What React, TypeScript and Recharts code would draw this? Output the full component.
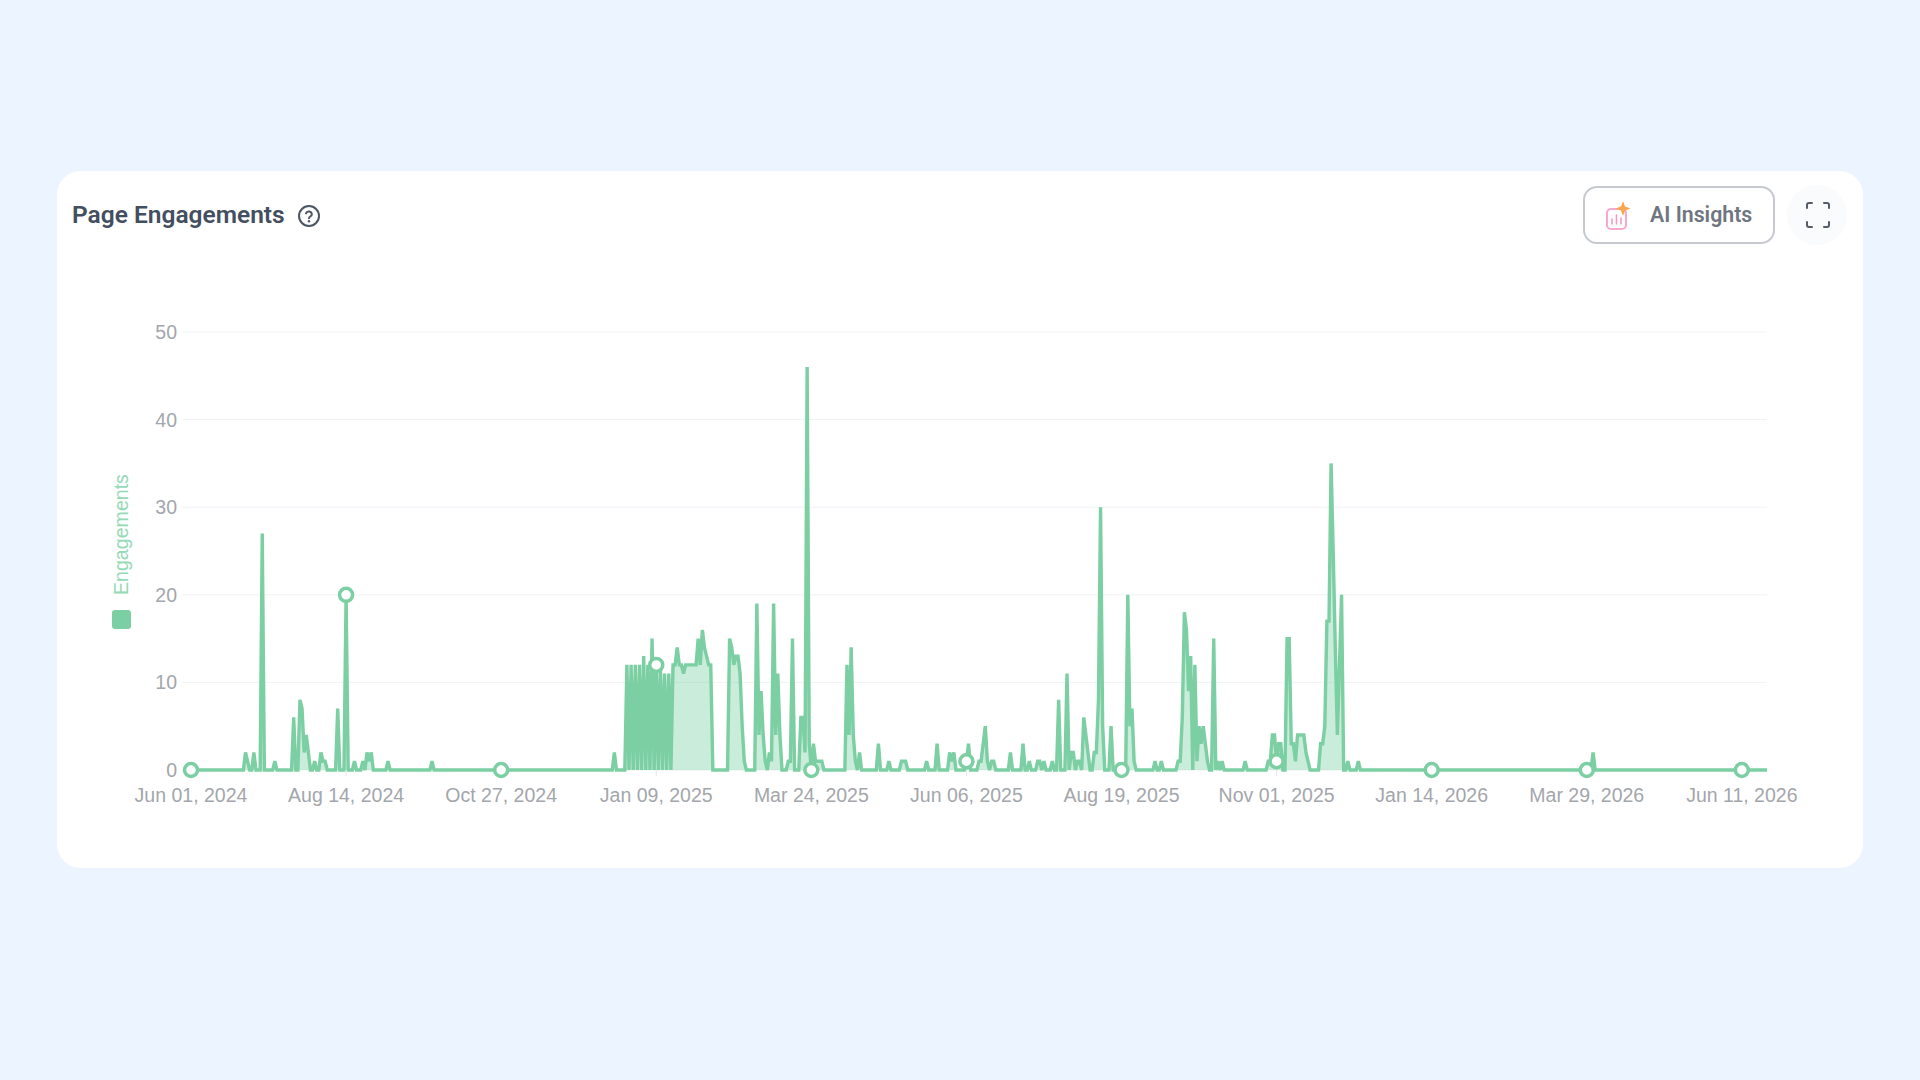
import { AreaChart, Area, XAxis, YAxis, CartesianGrid } from "recharts";

// days counted from Jun 01, 2024; every day not listed has no engagements
const lastDay = 752;

const activeDays = [
  26, 27, 30, 34, 40, 49, 52, 53, 54, 55, 56, 59, 62, 63, 64, 70, 74, 78, 82, 84, 85, 86, 94, 115, 202,
  208, 210, 212, 214, 216, 218, 220, 222, 224, 226, 228, 230,
  231, 232, 233, 234, 235, 236, 237, 238, 239, 240, 241, 242, 243, 244, 245, 246, 247, 248,
  257, 258, 259, 260, 261, 262, 263, 264,
  270, 271, 272, 273, 274, 276, 277, 278, 279, 280, 281, 285, 286, 287, 291, 292, 293, 294, 295, 297, 298, 299, 300, 301,
  313, 314, 315, 316, 317, 319, 328, 333, 339, 340, 341, 351, 356, 362, 363, 364, 370, 371, 376, 377, 378, 379, 380, 382, 383,
  391, 397, 400, 404, 405, 407, 411, 414, 418, 420, 421, 423, 424, 426, 427, 428, 431, 432, 433, 434, 435, 439, 447, 448, 449, 450,
  460, 463, 471, 472, 473, 474, 475, 476, 477, 479, 480, 481, 482, 483, 484, 485, 488, 490, 492, 503,
  514, 515, 516, 517, 518, 519, 520, 523, 524, 525, 526, 527, 528, 529, 530, 531, 532, 533,
  539, 540, 541, 542, 543, 544, 545, 546, 547, 548, 549, 552, 557, 669,
];

const activeValues = [
  2, 1, 2, 27, 1, 6, 8, 7, 2, 4, 2, 1, 2, 1, 1, 7, 20, 1, 1, 2, 1, 2, 1, 1, 2,
  12, 12, 12, 12, 13, 12, 15, 12, 12, 11, 11, 12,
  12, 14, 12, 12, 11, 12, 12, 12, 12, 12, 12, 15, 12, 16, 14, 13, 12, 12,
  15, 14, 12, 13, 13, 11, 5, 1,
  19, 4, 9, 4, 1, 2, 1, 19, 4, 11, 4, 1, 1, 15, 6, 6, 2, 46, 3, 3, 1, 1, 1, 1,
  12, 4, 14, 4, 1, 2, 3, 1, 1, 1, 1, 1, 3, 2, 1, 2, 1, 3, 1, 1, 3, 5, 1, 1, 1,
  2, 3, 1, 1, 1, 1, 1, 8, 11, 2, 2, 1, 1, 6, 4, 2, 2, 2, 8, 30, 5, 5, 20, 5, 7, 1,
  1, 1, 1, 1, 6, 18, 16, 9, 13, 12, 1, 5, 3, 5, 3, 1, 15, 1, 1, 1,
  1, 1, 4, 4, 1, 3, 3, 15, 15, 3, 3, 1, 4, 4, 4, 4, 2, 1,
  3, 3, 5, 17, 17, 35, 25, 14, 4, 12, 20, 1, 1, 2,
];

const tickDays = [0, 74, 148, 222, 296, 370, 444, 518, 592, 666, 740];
const tickLabels = [
  "Jun 01, 2024",
  "Aug 14, 2024",
  "Oct 27, 2024",
  "Jan 09, 2025",
  "Mar 24, 2025",
  "Jun 06, 2025",
  "Aug 19, 2025",
  "Nov 01, 2025",
  "Jan 14, 2026",
  "Mar 29, 2026",
  "Jun 11, 2026",
];
const yTicks = [0, 10, 20, 30, 40, 50];

const data = Array.from({ length: lastDay + 1 }, (_, day) => {
  const i = activeDays.indexOf(day);
  return { day, engagements: i < 0 ? 0 : activeValues[i] };
});

const green = "#7bcfa2";

function TickDot(props: any) {
  const { cx, cy, payload } = props;
  if (!tickDays.includes(payload.day)) return <g key={payload.day} />;
  return <circle key={payload.day} cx={cx} cy={cy} r={6.5} fill="#fff" stroke={green} strokeWidth={3.5} />;
}

export default function App() {
  return (
    <div style={{ position: "fixed", left: 0, top: 0, width: 1920, height: 1080, background: "#ecf4ff", overflow: "hidden" }}>
      <div style={{ position: "absolute", left: 57, top: 171, width: 1806, height: 697, background: "#fff", borderRadius: 24 }} />

      <div
        style={{
          position: "absolute",
          left: 72,
          top: 200,
          fontFamily: "Roboto",
          fontWeight: 600,
          fontSize: 24.5,
          lineHeight: "30px",
          color: "#434e60",
          whiteSpace: "nowrap",
        }}
      >
        Page Engagements
      </div>
      <svg style={{ position: "absolute", left: 297, top: 204 }} width={24} height={24} viewBox="0 0 24 24" fill="none">
        <circle cx={12} cy={12} r={10} stroke="#4b5563" strokeWidth={2} />
        <path d="M9 9.4a3 3 0 0 1 5.8 1c0 2-2.8 2.2-2.8 3.8" stroke="#4b5563" strokeWidth={2} strokeLinecap="round" />
        <circle cx={12} cy={17.2} r={1.2} fill="#4b5563" />
      </svg>

      <div
        style={{
          position: "absolute",
          left: 1583,
          top: 186,
          width: 192,
          height: 58,
          boxSizing: "border-box",
          border: "2px solid #c6cacf",
          borderRadius: 14,
          background: "#fff",
        }}
      />
      <svg style={{ position: "absolute", left: 1603, top: 200 }} width={30} height={32} viewBox="0 0 30 32" fill="none">
        <rect x={4} y={9} width={19} height={20} rx={4} stroke="#f7a8d0" strokeWidth={2} />
        <path d="M9 24v-5M13.500 24v-9M18 24v-6" stroke="#f49ac9" strokeWidth={1.6} strokeLinecap="round" />
        <path d="M20 1l2 5.500 5.500 2-5.500 2-2 5.500-2-5.500-5.500-2 5.500-2z" fill="#fba54e" />
      </svg>
      <div
        style={{
          position: "absolute",
          left: 1650,
          top: 200,
          fontFamily: "Roboto",
          fontWeight: 600,
          fontSize: 21.3,
          lineHeight: "30px",
          color: "#70767f",
          whiteSpace: "nowrap",
        }}
      >
        AI Insights
      </div>

      <div style={{ position: "absolute", left: 1787, top: 185, width: 60, height: 60, borderRadius: 30, background: "#fafbfc" }} />
      <svg style={{ position: "absolute", left: 1804, top: 200 }} width={28} height={30} viewBox="0 0 28 30" fill="none">
        <path
          d="M3 8V5a2 2 0 0 1 2-2h3M20 3h3a2 2 0 0 1 2 2v3M25 22v3a2 2 0 0 1-2 2h-3M8 27H5a2 2 0 0 1-2-2v-3"
          stroke="#555d69"
          strokeWidth={2}
          strokeLinecap="round"
        />
      </svg>

      <div style={{ position: "absolute", left: 112, top: 610, width: 19, height: 19, borderRadius: 3, background: green }} />
      <div
        style={{
          position: "absolute",
          left: 121,
          top: 595,
          transform: "rotate(-90deg) translateY(-50%)",
          transformOrigin: "0 0",
          fontFamily: "Liberation Sans",
          fontSize: 19.6,
          lineHeight: "22px",
          color: "#93dab5",
          whiteSpace: "nowrap",
        }}
      >
        Engagements
      </div>

      <div style={{ position: "absolute", left: 100, top: 300 }}>
        <AreaChart width={1700} height={530} data={data} margin={{ top: 32, right: 33, bottom: 20, left: 31 }}>
          <CartesianGrid horizontal vertical={false} stroke="#eff2f6" />
          <XAxis
            dataKey="day"
            type="number"
            domain={[0, lastDay]}
            ticks={tickDays}
            interval={0}
            height={40}
            axisLine={false}
            tickLine={{ stroke: "#e3e7ee" }}
            tickSize={6}
            tickMargin={12}
            tickFormatter={(v: number) => tickLabels[tickDays.indexOf(v)]}
            tick={{ fontSize: 19.5, fontFamily: "Liberation Sans", fill: "#a3a6ab" }}
          />
          <YAxis
            width={60}
            domain={[0, 50]}
            ticks={yTicks}
            interval={0}
            axisLine={false}
            tickLine={{ stroke: "#eff2f6" }}
            tickSize={9}
            tickMargin={5}
            tick={{ fontSize: 19.5, fontFamily: "Liberation Sans", fill: "#a3a6ab" }}
          />
          <Area
            type="linear"
            dataKey="engagements"
            stroke={green}
            strokeWidth={3.4}
            fill={green}
            fillOpacity={0.4}
            dot={TickDot}
            activeDot={false}
            isAnimationActive={false}
          />
        </AreaChart>
      </div>
    </div>
  );
}
